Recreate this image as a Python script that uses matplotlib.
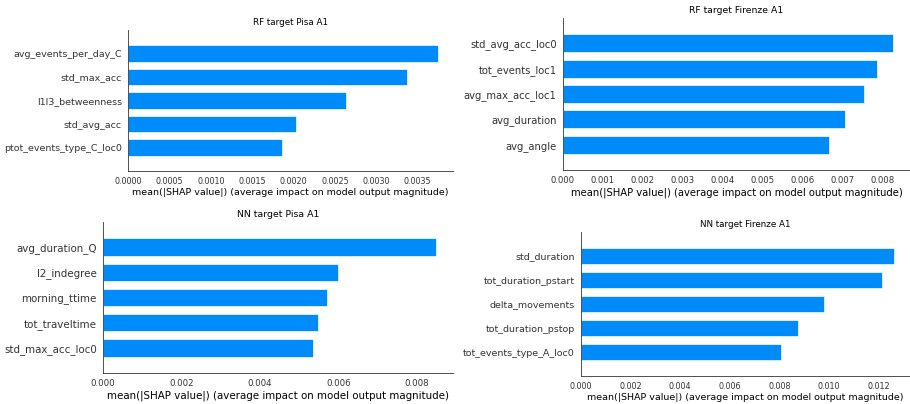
import matplotlib
matplotlib.use("Agg")
import matplotlib.pyplot as plt
from matplotlib.ticker import MultipleLocator

# mean |SHAP| per feature, top 5 per model / target
rf_pisa_features = ["avg_events_per_day_C", "std_max_acc", "l1l3_betweenness",
                    "std_avg_acc", "ptot_events_type_C_loc0"]
rf_pisa_values = [0.00374, 0.00337, 0.00263, 0.00203, 0.00186]

rf_firenze_features = ["std_avg_acc_loc0", "tot_events_loc1", "avg_max_acc_loc1",
                       "avg_duration", "avg_angle"]
rf_firenze_values = [0.00827, 0.00785, 0.00753, 0.00706, 0.00666]

nn_pisa_features = ["avg_duration_Q", "l2_indegree", "morning_ttime",
                    "tot_traveltime", "std_max_acc_loc0"]
nn_pisa_values = [0.00850, 0.00600, 0.00571, 0.00549, 0.00536]

nn_firenze_features = ["std_duration", "tot_duration_pstart", "delta_movements",
                       "tot_duration_pstop", "tot_events_type_A_loc0"]
nn_firenze_values = [0.01263, 0.01213, 0.00980, 0.00874, 0.00805]

titles = ["RF target Pisa A1", "RF target Firenze A1",
          "NN target Pisa A1", "NN target Firenze A1"]
tick_steps = [0.0005, 0.001, 0.002, 0.002]

W, H = 910, 404
# panel boxes in pixels: left, top, right, bottom, and font scale
boxes = [
    (128, 30, 453, 171, 0.525),
    (563, 18, 910, 170, 0.555),
    (103, 222, 453, 373, 0.565),
    (581, 232, 910, 376, 0.525),
]

blue = "#008bfb"
axis_color = "#333333"

fig = plt.figure(figsize=(W / 100, H / 100), dpi=100)

panels = [
    (rf_pisa_features, rf_pisa_values),
    (rf_firenze_features, rf_firenze_values),
    (nn_pisa_features, nn_pisa_values),
    (nn_firenze_features, nn_firenze_values),
]

for (feats, vals), title, step, (l, t, r, b, s) in zip(panels, titles, tick_steps, boxes):
    ax = fig.add_axes([l / W, 1 - b / H, (r - l) / W, (b - t) / H])
    n = len(feats)
    y_pos = list(range(n))[::-1]
    ax.barh(y_pos, vals, 0.7, align="center", color=blue,
            edgecolor=(1, 1, 1, 0.8), linewidth=0.6)
    ax.set_yticks(y_pos)
    ax.set_yticklabels(feats, fontsize=13 * s, color=axis_color)
    ax.set_ylim(-1, n)
    ax.xaxis.set_major_locator(MultipleLocator(step))
    ax.yaxis.set_ticks_position("none")
    ax.xaxis.set_ticks_position("bottom")
    ax.spines["right"].set_visible(False)
    ax.spines["top"].set_visible(False)
    for sp in ("left", "bottom"):
        ax.spines[sp].set_color(axis_color)
        ax.spines[sp].set_linewidth(0.6)
    ax.tick_params("x", labelsize=11 * s, length=0, pad=4, labelcolor=axis_color)
    ax.tick_params("y", length=0, pad=4.5)
    ax.set_xlabel("mean(|SHAP value|) (average impact on model output magnitude)",
                  fontsize=13 * s, color="black", labelpad=2)
    ax.set_title(title, fontsize=12 * s, pad=3.5)

fig.savefig("out.png", dpi=100)
